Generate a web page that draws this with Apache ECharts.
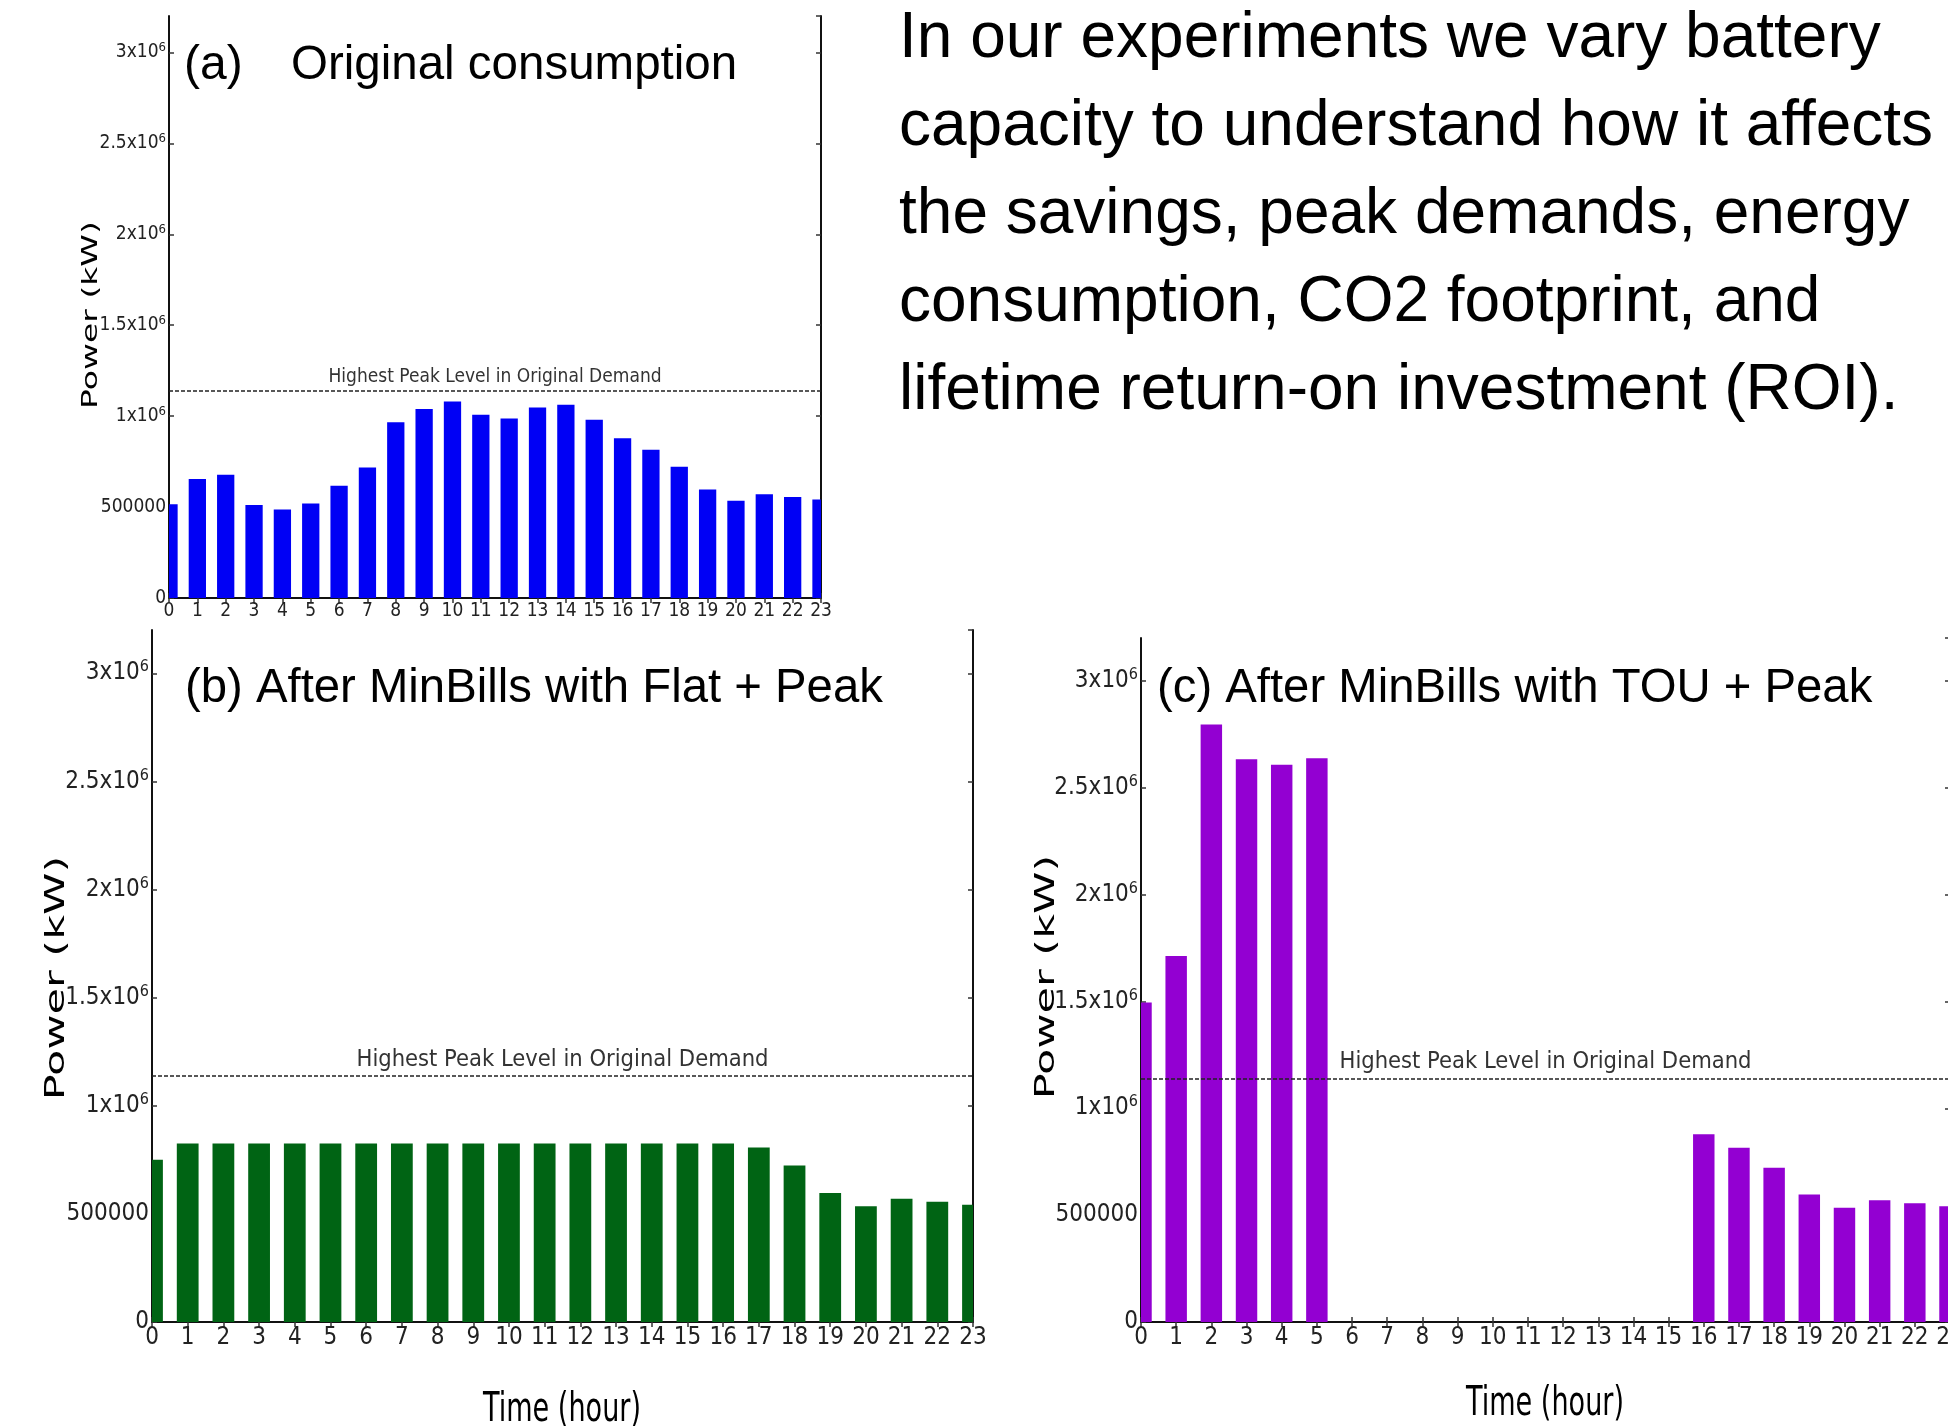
<!DOCTYPE html>
<html>
<head>
<meta charset="utf-8">
<script src="https://cdn.jsdelivr.net/npm/echarts@6/dist/echarts.min.js"></script>
<style>
  html, body { margin: 0; padding: 0; background: #ffffff; }
  #chart { width: 1948px; height: 1426px; }
</style>
</head>
<body>
<div id="chart"></div>
<script>
// Hour-of-day categories shared by all three panels
const hours = ['0', '1', '2', '3', '4', '5', '6', '7', '8', '9', '10', '11',
               '12', '13', '14', '15', '16', '17', '18', '19', '20', '21', '22', '23'];

// (a) original hourly consumption, kW
const originalDemand = [516000, 654000, 678000, 511000, 487000, 519000, 617000, 717000,
                        966000, 1039000, 1081000, 1007000, 987000, 1047000, 1062000, 980000,
                        878000, 815000, 722000, 596000, 535000, 570000, 556000, 542000];

// (b) consumption after MinBills with a flat + peak tariff, kW
const flatPeakDemand = [750000, 826000, 826000, 826000, 826000, 826000, 826000, 826000,
                        826000, 826000, 826000, 826000, 826000, 826000, 826000, 826000,
                        826000, 807000, 724000, 596000, 535000, 570000, 556000, 542000];

// (c) consumption after MinBills with a TOU + peak tariff, kW
const touPeakDemand = [1495000, 1712000, 2795000, 2633000, 2607000, 2638000, 0, 0,
                       0, 0, 0, 0, 0, 0, 0, 0,
                       878000, 815000, 722000, 596000, 535000, 570000, 556000, 542000];

// Highest peak level of the original demand, kW
const peakLevel = 1140000;

const panelTitles = ['(a)', 'Original consumption',
                     '(b) After MinBills with Flat + Peak',
                     '(c) After MinBills with TOU + Peak'];
const peakLabel = 'Highest Peak Level in Original Demand';
const yAxisTitle = 'Power (kW)';
const xAxisTitle = 'Time (hour)';
const noteLines = [
  'In our experiments we vary battery',
  'capacity to understand how it affects',
  'the savings, peak demands, energy',
  'consumption, CO2 footprint, and',
  'lifetime return-on investment (ROI).'
];

const narrow = "'DejaVu Sans Condensed', 'Liberation Sans Narrow', 'DejaVu Sans', sans-serif";
const dejavu = "'DejaVu Sans', sans-serif";
const arial = "'Liberation Sans', Arial, sans-serif";

const Y_MAX = 3200000;
const Y_STEP = 500000;
const BAR_FRACTION = 0.61;   // bar width as a share of the hour spacing

function powerLabel(v) {
  if (v === 0) return '0';
  if (v === 500000) return '500000';
  if (v % Y_STEP !== 0) return '';
  return '{m|' + (v / 1e6) + 'x10}{e|6}';
}

const panels = [
  { grid: { left: 169, top: 16, width: 652, height: 582 },
    data: originalDemand, color: '#0000f5', tick: 19, sup: 13, peakFont: 19 },
  { grid: { left: 152, top: 630, width: 821, height: 692 },
    data: flatPeakDemand, color: '#006414', tick: 24, sup: 16, peakFont: 23.5 },
  { grid: { left: 1141, top: 638, width: 809, height: 684 },
    data: touPeakDemand, color: '#9300d2', tick: 24, sup: 16, peakFont: 23.5 }
];

const spine = { show: true, lineStyle: { color: '#111', width: 2 } };
const innerTick = { show: true, inside: true, length: 5, lineStyle: { color: '#333', width: 1.5 } };

// Bars centred on the hour ticks, cut off at the frame like the edge hours 0 and 23
function barRenderer(color) {
  return function (params, api) {
    const hour = api.value(0);
    const power = api.value(1);
    const topPt = api.coord([hour, power]);
    const basePt = api.coord([hour, 0]);
    const w = api.size([1, 0])[0] * BAR_FRACTION;
    const cs = params.coordSys;
    const rect = echarts.graphic.clipRectByRect(
      { x: topPt[0] - w / 2, y: topPt[1], width: w, height: basePt[1] - topPt[1] },
      { x: cs.x, y: cs.y, width: cs.width, height: cs.height }
    );
    if (!rect) return null;
    return { type: 'rect', shape: rect, style: { fill: color } };
  };
}

const grids = [], xAxes = [], yAxes = [], series = [];
panels.forEach((p, i) => {
  grids.push(Object.assign({ containLabel: false, outerBoundsMode: 'none' }, p.grid));
  // bottom axis with hour labels
  xAxes.push({
    type: 'category', gridIndex: i, data: hours, boundaryGap: false, position: 'bottom',
    axisLine: spine, axisTick: Object.assign({ interval: 0 }, innerTick),
    axisLabel: { interval: 0, margin: 4, fontFamily: narrow, fontSize: p.tick, color: '#222' },
    splitLine: { show: false }
  });
  // top frame with tick marks only
  xAxes.push({
    type: 'category', gridIndex: i, data: hours, boundaryGap: false, position: 'top',
    axisLine: spine, axisTick: Object.assign({ interval: 0 }, innerTick),
    axisLabel: { show: false }, splitLine: { show: false }
  });
  // left power axis
  yAxes.push({
    type: 'value', gridIndex: i, min: 0, max: Y_MAX, interval: Y_STEP, position: 'left',
    axisLine: spine, axisTick: innerTick, splitLine: { show: false },
    axisLabel: {
      margin: 3, fontFamily: narrow, fontSize: p.tick, color: '#222', showMaxLabel: false,
      formatter: powerLabel,
      rich: {
        m: { fontFamily: narrow, fontSize: p.tick, color: '#222', lineHeight: p.tick + 4 },
        e: { fontFamily: narrow, fontSize: p.sup, color: '#222', verticalAlign: 'top', lineHeight: p.sup }
      }
    }
  });
  // right frame with tick marks only
  yAxes.push({
    type: 'value', gridIndex: i, min: 0, max: Y_MAX, interval: Y_STEP, position: 'right',
    axisLine: spine, axisTick: innerTick, axisLabel: { show: false }, splitLine: { show: false }
  });
  series.push({
    type: 'custom', xAxisIndex: 2 * i, yAxisIndex: 2 * i,
    data: p.data.map((v, h) => [h, v]),
    encode: { x: 0, y: 1 },
    renderItem: barRenderer(p.color),
    z: 2,
    markLine: {
      silent: true, symbol: ['none', 'none'],
      lineStyle: { type: [4, 2], color: '#222', width: 1.6 },
      label: {
        show: true, position: 'insideMiddleTop', distance: 4,
        formatter: peakLabel, fontFamily: narrow, fontSize: p.peakFont, color: '#333'
      },
      data: [{ yAxis: peakLevel }]
    }
  });
});

function txt(text, x, y, font, size, extra, align) {
  return Object.assign({
    type: 'text', x: x, y: y, silent: true, z: 10,
    style: { text: text, fontFamily: font, fontSize: size, fill: '#000',
             align: align || 'left', verticalAlign: 'middle' }
  }, extra || {});
}

const graphics = [
  // panel titles
  txt(panelTitles[0], 184, 66, arial, 48),
  txt(panelTitles[1], 291, 66, arial, 47.5),
  txt(panelTitles[2], 185, 689, arial, 47.3),
  txt(panelTitles[3], 1157, 689, arial, 47.3),
  // y-axis titles (rotated, glyphs compressed across the axis)
  txt(yAxisTitle, 92, 315, dejavu, 33, { rotation: Math.PI / 2, scaleY: 0.63 }, 'center'),
  txt(yAxisTitle, 57, 978, dejavu, 43, { rotation: Math.PI / 2, scaleY: 0.63 }, 'center'),
  txt(yAxisTitle, 1047, 977, dejavu, 43, { rotation: Math.PI / 2, scaleY: 0.63 }, 'center'),
  // x-axis titles (horizontally compressed)
  txt(xAxisTitle, 562, 1410, dejavu, 41, { scaleX: 0.66 }, 'center'),
  txt(xAxisTitle, 1545, 1404, dejavu, 41, { scaleX: 0.66 }, 'center'),
  // explanatory paragraph
  {
    type: 'text', x: 899, y: -5, silent: true, z: 10,
    style: { text: noteLines.join('\n'), fontFamily: arial, fontSize: 64, lineHeight: 88,
             fill: '#000', align: 'left', verticalAlign: 'top' }
  }
];

const chart = echarts.init(document.getElementById('chart'), null, { renderer: 'canvas' });
chart.setOption({
  animation: false,
  backgroundColor: '#ffffff',
  grid: grids,
  xAxis: xAxes,
  yAxis: yAxes,
  series: series,
  graphic: graphics
});
</script>
</body>
</html>
